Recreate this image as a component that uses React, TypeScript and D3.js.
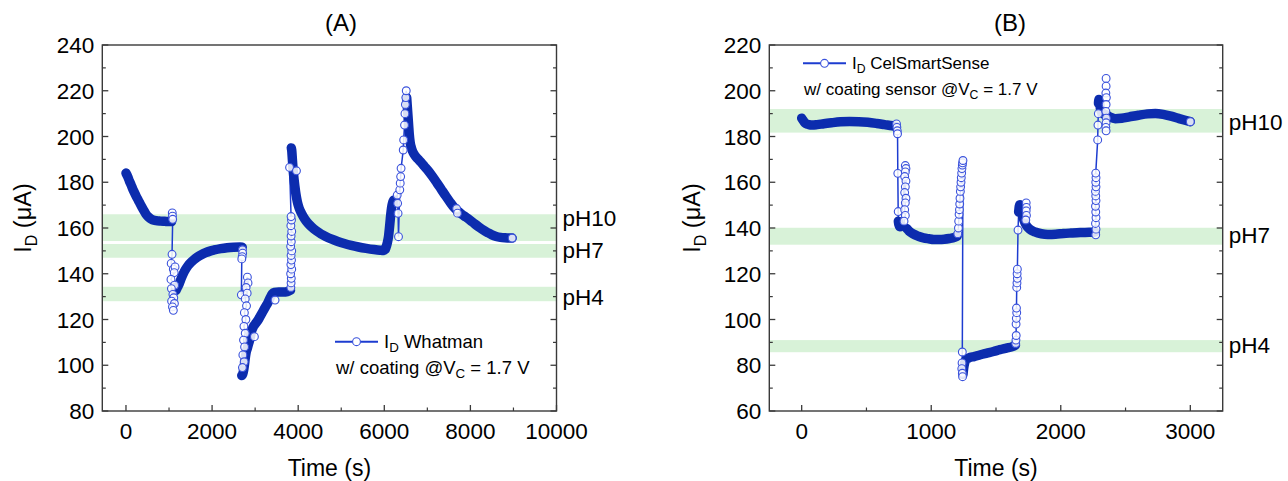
import React from 'react';
import * as d3 from 'd3';

type P = [number, number];

// ---------------- Panel A : Whatman ----------------
const whatmanRun1: P[] = [[0,184],[40,182.5],[80,180.5],[120,178.8],[170,176.5],[230,174.2],[290,172],[350,169.8],[410,167.8],[460,166.2],[510,165],[560,164.2],[620,163.6],[700,163.2],[800,163],[900,162.9],[1000,162.8],[1060,162.8]];
const whatmanJump1: P[] = [[1075,166.6],[1080,165.2],[1085,163.8],[1070,148.5],[1050,144.5],[1100,142],[1140,143],[1120,140.5],[1045,137.5],[1130,135],[1055,133.5],[1090,131],[1110,129.5],[1060,128],[1125,127],[1080,125.5],[1100,124]];
const whatmanRun2: P[] = [[1140,132.5],[1170,133],[1200,134.2],[1240,135.8],[1280,137.8],[1330,140],[1380,141.8],[1440,143.5],[1500,144.8],[1580,146.2],[1660,147.3],[1750,148.3],[1850,149.2],[1950,149.9],[2050,150.4],[2200,151],[2350,151.4],[2500,151.6],[2650,151.7],[2700,151.6]];
const whatmanJump2: P[] = [[2705,150.5],[2710,149],[2700,147.5],[2690,146.5],[2680,130.8],[2820,138.5],[2835,136],[2790,134],[2815,131.5],[2770,129],[2800,126],[2750,123],[2785,120],[2740,117],[2770,114],[2730,111],[2755,108],[2715,104.5],[2745,101.5],[2705,99]];
const whatmanRun3: P[] = [[2690,95.5],[2710,96],[2730,97.5],[2750,100],[2770,103],[2790,105.5],[2820,107.5],[2850,109.5],[2880,111.5],[2910,114.5],[2950,116.5],[3000,118],[3060,119.5],[3120,121.5],[3180,123.5],[3240,125.5],[3300,127.5],[3350,129.5],[3400,131.2],[3450,131.8],[3550,132],[3650,132],[3750,132.2],[3820,132.8]];
const whatmanJump3: P[] = [[3830,134],[3835,136],[3840,138],[3825,140],[3850,142],[3830,144],[3845,146],[3835,148],[3850,150],[3825,152],[3840,154],[3835,156.5],[3850,158.5],[3830,161],[3845,163.5],[3835,165],[3800,186.5]];
const whatmanRun4: P[] = [[3840,195],[3850,194],[3865,190],[3880,186],[3900,182],[3925,178],[3950,174.5],[3980,171.5],[4020,168.8],[4080,166.3],[4150,164],[4230,162],[4320,160.3],[4420,158.8],[4530,157.4],[4650,156.2],[4780,155.1],[4920,154.1],[5070,153.2],[5230,152.4],[5400,151.7],[5580,151.1],[5760,150.6],[5900,150.3],[5980,150.2],[6020,150.6],[6040,151.5],[6070,153.5],[6100,156.5],[6120,160],[6140,164],[6160,167.5],[6180,170],[6200,171.5],[6220,172.2]];
const whatmanJump4: P[] = [[6300,174.4],[6310,170.8],[6320,166.4],[6330,156.2],[6360,176.7],[6370,179.6],[6380,182.5],[6390,186.1],[6440,194.1],[6450,198.5],[6470,205],[6480,210],[6490,214],[6500,217],[6510,220]];
const whatmanRun5: P[] = [[6520,217],[6535,213],[6550,209],[6565,205],[6580,201],[6600,197.5],[6630,195],[6670,193],[6720,191.5],[6780,190.2],[6850,188.8],[6930,187],[7020,185],[7120,182.5],[7220,179.8],[7320,177],[7420,174.2],[7520,171.5],[7620,169],[7700,167.5],[7800,166],[7900,164.7],[8000,163.3],[8100,161.8],[8200,160.4],[8300,159.1],[8400,158],[8500,157],[8600,156.3],[8700,155.9],[8800,155.7],[8900,155.6],[8970,155.6]];
const whatmanStray: P[] = [[3960,185],[2983,112.5],[3463,128.5],[7680,168.5],[7700,166.5],[8970,155.6]];
const whatmanParts: P[][] = [whatmanRun1, whatmanJump1, whatmanRun2, whatmanJump2, whatmanRun3, whatmanJump3, whatmanRun4, whatmanJump4, whatmanRun5];
const whatmanDense: boolean[] = [true, false, true, false, true, false, true, false, true];

const bandsA: P[] = [[154.3,166],[147,153],[128,134.3]];
const bandNamesA = ['pH10', 'pH7', 'pH4'];
const bandLabelAtA = [164.4, 150.4, 129.8];
const xTicksA = [0, 2000, 4000, 6000, 8000, 10000];
const yTicksA = [80, 100, 120, 140, 160, 180, 200, 220, 240];

// ---------------- Panel B : CelSmartSense ----------------
const celRun1: P[] = [[0,188],[10,187.2],[20,186.3],[35,185.6],[55,185.2],[80,185],[120,185.2],[170,185.6],[230,186],[300,186.4],[370,186.6],[440,186.5],[510,186.2],[580,185.7],[640,185.2],[700,184.7],[730,184.3]];
const celJump1: P[] = [[732,185.5],[735,184],[738,182.5],[740,181.2],[742,163.9],[745,147.2]];
const celRun2: P[] = [[746,143],[750,141.5],[758,140.5],[768,140.8]];
const celJump2: P[] = [[800,167.3],[805,166],[800,164.5],[795,162.5],[805,160.5],[800,158],[795,155.5],[805,153],[800,151],[795,148],[800,145.5],[790,143]];
const celRun3: P[] = [[810,139.8],[830,138.6],[860,137.4],[900,136.4],[940,135.7],[980,135.3],[1020,135],[1060,135],[1100,135.1],[1140,135.4],[1180,135.9],[1200,136.4]];
const celJump3: P[] = [[1205,137.5],[1210,140],[1212,143],[1215,146],[1218,148],[1220,150.5],[1222,153],[1225,156],[1227,158],[1230,160],[1232,162],[1235,164],[1237,166],[1240,167.5],[1242,168.5],[1245,169.5],[1240,85.8],[1238,81],[1236,78.5],[1240,76.5],[1242,75]];
const celRun4: P[] = [[1245,76],[1250,78.5],[1258,81],[1270,82.5],[1290,83.2],[1330,83.8],[1380,84.6],[1430,85.3],[1480,86],[1530,86.8],[1580,87.5],[1630,88.2],[1650,88.8]];
const celJump4: P[] = [[1652,89.5],[1654,91],[1656,93],[1655,98],[1657,100.5],[1660,103],[1658,105],[1660,114],[1662,116],[1665,118],[1663,120],[1665,122],[1670,139.1]];
const celRun5: P[] = [[1675,147],[1680,149.5],[1685,150.2],[1690,149.5],[1700,146.5],[1715,143.5],[1735,141],[1760,139.5],[1800,138.3],[1850,137.5],[1900,137.2],[1960,137.3],[2020,137.6],[2080,137.8],[2150,138],[2220,138.1],[2265,138.2]];
const celJump5: P[] = [[2270,137],[2272,139.5],[2268,142],[2272,144.5],[2270,147],[2268,149.5],[2272,152],[2270,154],[2268,156],[2272,158],[2270,160],[2272,162],[2270,164],[2285,178.5],[2287,185],[2290,190]];
const celRun6: P[] = [[2291,194.5],[2295,196.2],[2300,195],[2305,192.5],[2315,190.5],[2330,189.8],[2350,189.5],[2380,188.5],[2420,187.8],[2470,188],[2530,188.6],[2600,189.3],[2670,189.9],[2730,190.1],[2790,189.7],[2850,188.9],[2910,187.9],[2960,187.1],[3000,186.5]];
const celStray: P[] = [[1733,151],[1735,149],[1733,147.5],[1735,145.5],[1730,143.5],[2350,205.4],[2350,202],[2348,199],[2352,197],[2350,194],[2348,191],[2352,188],[2350,186],[2348,184],[2350,182.5],[3000,186.5]];
const celParts: P[][] = [celRun1, celJump1, celRun2, celJump2, celRun3, celJump3, celRun4, celJump4, celRun5, celJump5, celRun6];
const celDense: boolean[] = [true, false, true, false, true, false, true, false, true, false, true];

const bandsB: P[] = [[181.7,192],[132.7,140.1],[85.7,91]];
const bandNamesB = ['pH10', 'pH7', 'pH4'];
const bandLabelAtB = [186.5, 136.9, 88.9];
const xTicksB = [0, 1000, 2000, 3000];
const yTicksB = [60, 80, 100, 120, 140, 160, 180, 200, 220];

// ---------------- styling ----------------
const FONT = '"Liberation Sans", Arial, Helvetica, sans-serif';
const BAND = '#d8f2d8';
const RUN = '#0c2cae';
const LINE = '#1d3cd0';
const MARK = '#3a52dc';
const FRAME = '#3a3a3a';
const FS = 22.5;

interface PanelProps {
  left: number; right: number; top: number; bottom: number;
  xDomain: [number, number]; yDomain: [number, number];
  xTicks: number[]; xMinor: number; yTicks: number[]; yMinor: number;
  parts: P[][]; dense: boolean[]; stray: P[];
  bands: P[]; bandNames: string[]; bandLabelAt: number[];
  title: string; titleX: number; yTitleX: number;
  legend: { x: number; y: number; name: string; note: string; fs: number };
}

function Panel(p: PanelProps) {
  const x = d3.scaleLinear().domain(p.xDomain).range([p.left, p.right]);
  const y = d3.scaleLinear().domain(p.yDomain).range([p.bottom, p.top]);
  const xMinorTicks = d3.range(Math.ceil(p.xDomain[0] / p.xMinor) * p.xMinor, p.xDomain[1] + 1, p.xMinor)
    .filter(v => !p.xTicks.includes(v) && v >= p.xDomain[0]);
  const yMinorTicks = d3.range(p.yDomain[0], p.yDomain[1] + 1, p.yMinor).filter(v => !p.yTicks.includes(v));
  const all: P[] = ([] as P[]).concat(...p.parts);
  const thin = d3.line<P>().x(d => x(d[0])).y(d => y(d[1]));
  const thick = d3.line<P>().x(d => x(d[0])).y(d => y(d[1])).curve(d3.curveMonotoneX);
  const dots: P[] = ([] as P[]).concat(...p.parts.filter((_, i) => !p.dense[i]), p.stray);
  const L = p.legend;
  const cx = (p.left + p.right) / 2;
  return (
    <g fontFamily={FONT} fill="#000">
      <clipPath id={'clip' + p.title}>
        <rect x={p.left} y={p.top} width={p.right - p.left} height={p.bottom - p.top} />
      </clipPath>
      {p.bands.map((b, i) => (
        <rect key={'b' + i} x={p.left} width={p.right - p.left} y={y(b[1])} height={y(b[0]) - y(b[1])} fill={BAND} />
      ))}
      <g clipPath={`url(#clip${p.title})`}>
        <path d={thin(all) ?? ''} fill="none" stroke={LINE} strokeWidth={1.5} />
        {p.parts.map((pts, i) => p.dense[i] ? (
          <path key={'r' + i} d={thick(pts) ?? ''} fill="none" stroke={RUN} strokeWidth={9.5} strokeLinecap="round" strokeLinejoin="round" />
        ) : null)}
        {dots.map((d, i) => (
          <circle key={'c' + i} cx={x(d[0])} cy={y(d[1])} r={3.9} fill="#fff" fillOpacity={0.85} stroke={MARK} strokeWidth={1.1} />
        ))}
      </g>
      <rect x={p.left} y={p.top} width={p.right - p.left} height={p.bottom - p.top} fill="none" stroke={FRAME} strokeWidth={1.4} />
      {p.xTicks.map(v => (
        <g key={'xt' + v}>
          <line x1={x(v)} x2={x(v)} y1={p.bottom} y2={p.bottom - 6} stroke={FRAME} strokeWidth={1.3} />
          <text x={x(v)} y={p.bottom + 28} fontSize={FS} textAnchor="middle">{v}</text>
        </g>
      ))}
      {xMinorTicks.map(v => (
        <line key={'xm' + v} x1={x(v)} x2={x(v)} y1={p.bottom} y2={p.bottom - 3.5} stroke={FRAME} strokeWidth={1.2} />
      ))}
      {p.yTicks.map(v => (
        <g key={'yt' + v}>
          <line x1={p.left} x2={p.left + 6} y1={y(v)} y2={y(v)} stroke={FRAME} strokeWidth={1.3} />
          <line x1={p.right} x2={p.right - 6} y1={y(v)} y2={y(v)} stroke={FRAME} strokeWidth={1.3} />
          <text x={p.left - 8} y={y(v) + FS * 0.36} fontSize={FS} textAnchor="end">{v}</text>
        </g>
      ))}
      {yMinorTicks.map(v => (
        <g key={'ym' + v}>
          <line x1={p.left} x2={p.left + 3.5} y1={y(v)} y2={y(v)} stroke={FRAME} strokeWidth={1.2} />
          <line x1={p.right} x2={p.right - 3.5} y1={y(v)} y2={y(v)} stroke={FRAME} strokeWidth={1.2} />
        </g>
      ))}
      {p.bandNames.map((n, i) => (
        <text key={'bl' + i} x={p.right + 6} y={y(p.bandLabelAt[i]) + FS * 0.36} fontSize={FS}>{n}</text>
      ))}
      <text x={p.titleX} y={31} fontSize={24} textAnchor="middle">{p.title}</text>
      <text x={cx} y={476} fontSize={23} textAnchor="middle">Time (s)</text>
      <text transform={`translate(${p.yTitleX},218) rotate(-90)`} fontSize={23.5} textAnchor="middle">
        I<tspan dy={6} fontSize={16}>D</tspan><tspan dy={-6}> (μA)</tspan>
      </text>
      <line x1={L.x} x2={L.x + 43} y1={L.y} y2={L.y} stroke={LINE} strokeWidth={2} />
      <circle cx={L.x + 21.5} cy={L.y} r={3.9} fill="#fff" stroke={MARK} strokeWidth={1.1} />
      <text x={L.x + 49} y={L.y + L.fs * 0.36} fontSize={L.fs}>
        I<tspan dy={4} fontSize={L.fs * 0.72}>D</tspan><tspan dy={-4}> {L.name}</tspan>
      </text>
      <text x={L.x + 1} y={L.y + L.fs * 0.36 + 26} fontSize={L.fs}>
        {L.note}<tspan dy={4} fontSize={L.fs * 0.72}>C</tspan><tspan dy={-4}> = 1.7 V</tspan>
      </text>
    </g>
  );
}

export default function App() {
  return (
    <svg width={1288} height={481} style={{ position: 'absolute', left: 0, top: 0, background: '#fff' }}>
      <rect width={1288} height={481} fill="#fff" />
      <Panel left={102.3} right={556.5} top={45} bottom={411}
        xDomain={[-550, 10000]} yDomain={[80, 240]}
        xTicks={xTicksA} xMinor={1000} yTicks={yTicksA} yMinor={10}
        parts={whatmanParts} dense={whatmanDense} stray={whatmanStray}
        bands={bandsA} bandNames={bandNamesA} bandLabelAt={bandLabelAtA}
        title="(A)" titleX={341} yTitleX={31}
        legend={{ x: 335, y: 341.7, name: 'Whatman', note: 'w/ coating @V', fs: 18.5 }} />
      <Panel left={769.3} right={1222.7} top={45} bottom={411}
        xDomain={[-250, 3250]} yDomain={[60, 220]}
        xTicks={xTicksB} xMinor={500} yTicks={yTicksB} yMinor={10}
        parts={celParts} dense={celDense} stray={celStray}
        bands={bandsB} bandNames={bandNamesB} bandLabelAt={bandLabelAtB}
        title="(B)" titleX={1010} yTitleX={700}
        legend={{ x: 803, y: 63.3, name: 'CelSmartSense', note: 'w/ coating sensor @V', fs: 17 }} />
    </svg>
  );
}
